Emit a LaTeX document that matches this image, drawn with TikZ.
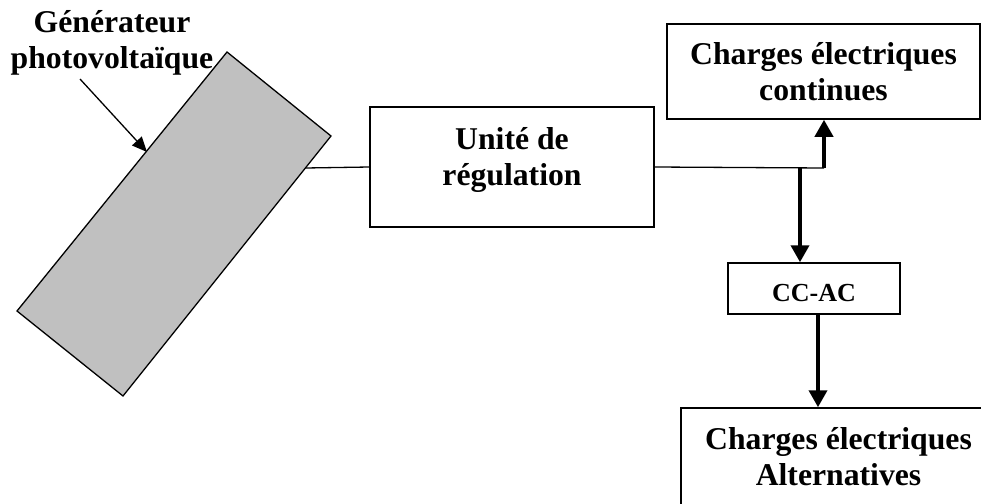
\documentclass[tikz,border=0pt]{standalone}
\usepackage{fontspec}
\setmainfont{Liberation Serif}
\usetikzlibrary{arrows.meta}
\definecolor{panelgray}{HTML}{C0C0C0}
\begin{document}
\begin{tikzpicture}[x=1pt,y=-1pt,
  bigtxt/.style={font=\fontsize{31.7}{36}\selectfont\bfseries, align=center},
  boxnode/.style={draw, line width=1.5pt, inner sep=0pt, bigtxt},
  thin/.style={line width=1.3pt},
  fatarrow/.style={line width=3.8pt, -{Triangle[length=17pt,width=18pt]}},
  slimarrow/.style={line width=1.3pt, -{Triangle[length=15pt,width=13pt]}}]
\clip (0,0) rectangle (981,503);
% photovoltaic panel
\coordinate (p1) at (227,52);
\coordinate (p2) at (331,136);
\coordinate (p3) at (123,396);
\coordinate (p4) at (17,311);
\draw[fill=panelgray, line width=1.3pt] (p1) -- (p2) -- (p3) -- (p4) -- cycle;
\coordinate (pv) at (305.4,168);
\node[bigtxt] (gen) at (112,42.5) {Générateur\\photovoltaïque};
\coordinate (genfoot) at (80,79);
\coordinate (gentip) at (147,152);
\draw[slimarrow] (genfoot) -- (gentip);
% boxes
\node[boxnode, minimum width=284pt, minimum height=120pt, text depth=21pt] (reg) at (512,167) {Unité de\\régulation};
\node[boxnode, minimum width=313pt, minimum height=95pt] (cont) at (823.5,71.5) {Charges électriques\\continues};
\node[boxnode, minimum width=172pt, minimum height=51pt, text height=25pt, text depth=0pt, font=\fontsize{26}{30}\selectfont\bfseries] (conv) at (814,288.5) {CC-AC};
\node[boxnode, minimum width=315pt, minimum height=97pt] (alt) at (838.5,456.5) {Charges électriques\\Alternatives};
% connectors
\coordinate (j1) at (824,168);
\coordinate (j2) at (800,168);
\draw[thin] (pv) -- (reg.west);
\draw[thin] (reg.east) -- (j1);
\draw[fatarrow] (j1) -- (j1 |- cont.south);
\draw[fatarrow] (j2) -- (j2 |- conv.north);
\draw[fatarrow] (818,0 |- conv.south) -- (818,0 |- alt.north);
\end{tikzpicture}
\end{document}
